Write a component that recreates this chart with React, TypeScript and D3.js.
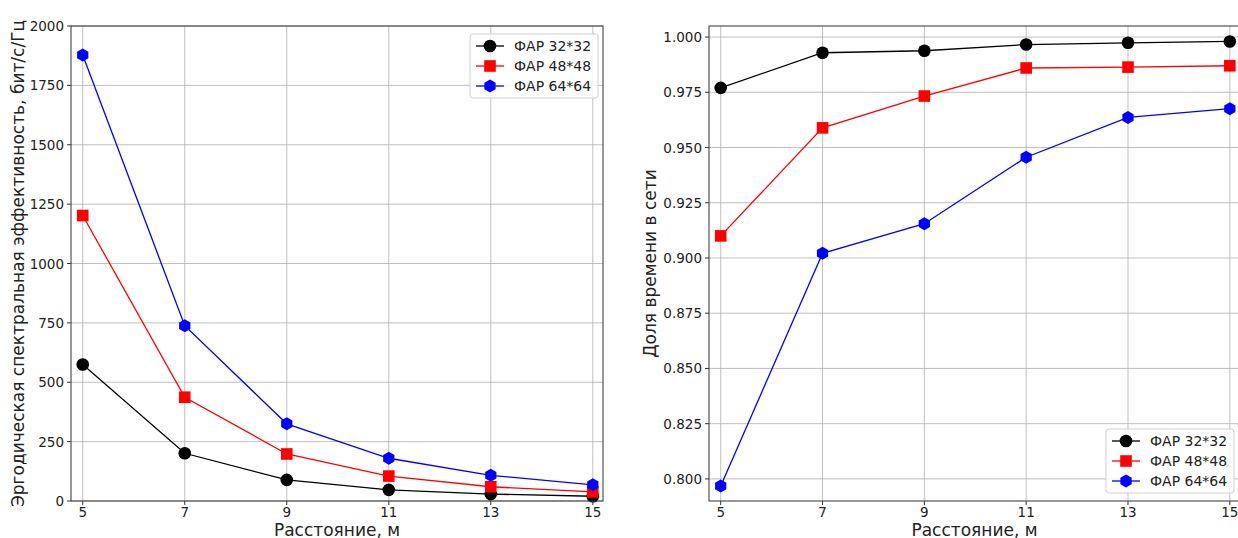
import React from "react";
import * as d3 from "d3";

const distances = [5, 7, 9, 11, 13, 15];
const seriesNames = ["ФАР 32*32", "ФАР 48*48", "ФАР 64*64"];
const seriesColors = ["black", "red", "blue"];
const seriesMarkers = ["circle", "square", "hexagon"];

// left: ergodic spectral efficiency
const effBlack = [575, 201, 89, 47, 29, 20];
const effRed = [1202, 437, 198, 105, 60, 38];
const effBlue = [1878, 738, 325, 180, 108, 68];

// right: share of time in network
const shareBlack = [0.977, 0.9929, 0.9938, 0.9966, 0.9974, 0.998];
const shareRed = [0.910, 0.9589, 0.9733, 0.986, 0.9864, 0.987];
const shareBlue = [0.7968, 0.9021, 0.9155, 0.9456, 0.9636, 0.9676];

const effTicks = [0, 250, 500, 750, 1000, 1250, 1500, 1750, 2000];
const shareTicks = [0.8, 0.825, 0.85, 0.875, 0.9, 0.925, 0.95, 0.975, 1.0];

const FONT = "DejaVu Sans, sans-serif";

const Marker = ({ kind, x, y, color }: { kind: string; x: number; y: number; color: string }) => {
  if (kind === "circle") return <circle cx={x} cy={y} r={6.3} fill={color} />;
  if (kind === "square") return <rect x={x - 5.8} y={y - 5.8} width={11.6} height={11.6} fill={color} />;
  const r = 6.5;
  const pts = d3.range(6).map((i) => {
    const a = (Math.PI / 3) * i - Math.PI / 2;
    return `${x + r * Math.cos(a)},${y + r * Math.sin(a)}`;
  });
  return <polygon points={pts.join(" ")} fill={color} />;
};

type PanelProps = {
  left: number;
  right: number;
  top: number;
  bottom: number;
  yDomain: [number, number];
  yTicks: number[];
  yFormat: (v: number) => string;
  series: number[][];
  yLabel: string;
  yLabelX: number;
  legend: { x: number; y: number };
};

const Panel = (p: PanelProps) => {
  const x = d3.scaleLinear().domain([4.77, 15.2]).range([p.left, p.right]);
  const y = d3.scaleLinear().domain(p.yDomain).range([p.bottom, p.top]);
  const line = d3
    .line<number>()
    .x((_, i) => x(distances[i]))
    .y((d) => y(d));
  const lw = 128;
  const lh = 64;
  return (
    <g fontFamily={FONT}>
      {distances.map((d) => (
        <line key={"gx" + d} x1={x(d)} x2={x(d)} y1={p.top} y2={p.bottom} stroke="#b0b0b0" strokeWidth={0.8} />
      ))}
      {p.yTicks.map((t) => (
        <line key={"gy" + t} x1={p.left} x2={p.right} y1={y(t)} y2={y(t)} stroke="#b0b0b0" strokeWidth={0.8} />
      ))}
      {p.series.map((s, k) => (
        <g key={"s" + k}>
          <path d={line(s) || ""} fill="none" stroke={seriesColors[k]} strokeWidth={1.3} />
          {s.map((v, i) => (
            <Marker key={i} kind={seriesMarkers[k]} x={x(distances[i])} y={y(v)} color={seriesColors[k]} />
          ))}
        </g>
      ))}
      <rect x={p.left} y={p.top} width={p.right - p.left} height={p.bottom - p.top} fill="none" stroke="#333" strokeWidth={1} />
      {distances.map((d) => (
        <g key={"tx" + d}>
          <line x1={x(d)} x2={x(d)} y1={p.bottom} y2={p.bottom + 4} stroke="#333" />
          <text x={x(d)} y={p.bottom + 16} textAnchor="middle" fontSize={13.5} fill="#222">
            {d}
          </text>
        </g>
      ))}
      {p.yTicks.map((t) => (
        <g key={"ty" + t}>
          <line x1={p.left - 4} x2={p.left} y1={y(t)} y2={y(t)} stroke="#333" />
          <text x={p.left - 7} y={y(t) + 5} textAnchor="end" fontSize={13.5} fill="#222">
            {p.yFormat(t)}
          </text>
        </g>
      ))}
      <text x={(p.left + p.right) / 2} y={p.bottom + 34.5} textAnchor="middle" fontSize={17} fill="#222">
        Расстояние, м
      </text>
      <text
        transform={`translate(${p.yLabelX},${(p.top + p.bottom) / 2}) rotate(-90)`}
        textAnchor="middle"
        fontSize={17}
        fill="#222"
      >
        {p.yLabel}
      </text>
      <g transform={`translate(${p.legend.x},${p.legend.y})`}>
        <rect x={0} y={0} width={lw} height={lh} rx={3} fill="white" fillOpacity={0.85} stroke="#d0d0d0" />
        {seriesNames.map((n, k) => (
          <g key={n} transform={`translate(0,${12 + k * 20})`}>
            <line x1={6} x2={34} y1={0} y2={0} stroke={seriesColors[k]} strokeWidth={1.3} />
            <Marker kind={seriesMarkers[k]} x={20} y={0} color={seriesColors[k]} />
            <text x={44} y={5} fontSize={14} fill="#222">
              {n}
            </text>
          </g>
        ))}
      </g>
    </g>
  );
};

export default function App() {
  return (
    <svg
      width={1238}
      height={538}
      style={{ position: "absolute", left: 0, top: 0, background: "white" }}
    >
      <Panel
        left={71}
        right={603}
        top={26}
        bottom={501}
        yDomain={[0, 2000]}
        yTicks={effTicks}
        yFormat={(v) => String(v)}
        series={[effBlack, effRed, effBlue]}
        yLabel="Эргодическая спектральная эффективность, бит/с/Гц"
        yLabelX={24}
        legend={{ x: 470, y: 34 }}
      />
      <Panel
        left={709}
        right={1240}
        top={26}
        bottom={501}
        yDomain={[0.79, 1.005]}
        yTicks={shareTicks}
        yFormat={(v) => v.toFixed(3)}
        series={[shareBlack, shareRed, shareBlue]}
        yLabel="Доля времени в сети"
        yLabelX={656}
        legend={{ x: 1106, y: 429 }}
      />
    </svg>
  );
}
